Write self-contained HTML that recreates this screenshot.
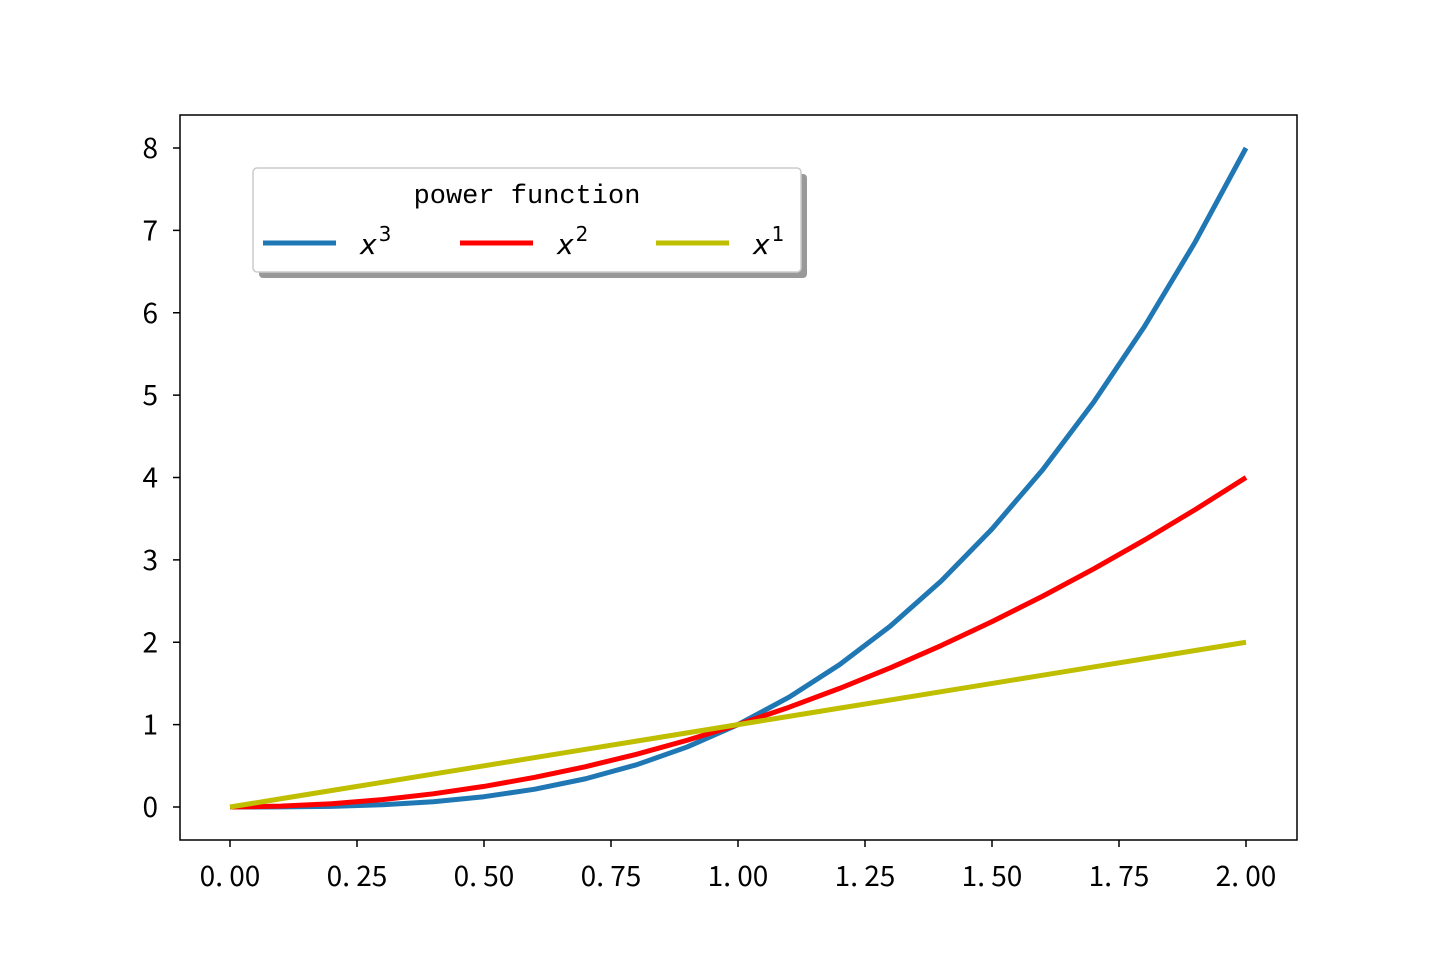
<!DOCTYPE html>
<html><head><meta charset="utf-8"><style>
html,body{margin:0;padding:0;background:#fff;width:1440px;height:960px;overflow:hidden}
svg{display:block}
text{font-family:"WenQuanYi Zen Hei","Noto Sans CJK SC",sans-serif;fill:#000}
</style></head><body>
<svg id="chart" width="1440" height="960" viewBox="0 0 1440 960" xmlns="http://www.w3.org/2000/svg">
<rect x="0" y="0" width="1440" height="960" fill="#fff"/>
<g id="plot"></g>
</svg>
<script>
const xs = [0,0.1,0.2,0.3,0.4,0.5,0.6,0.7,0.8,0.9,1.0,1.1,1.2,1.3,1.4,1.5,1.6,1.7,1.8,1.9,2.0];
const cubeVals = [0,0.001,0.008,0.027,0.064,0.125,0.216,0.343,0.512,0.729,1,1.331,1.728,2.197,2.744,3.375,4.096,4.913,5.832,6.859,8];
const squareVals = [0,0.01,0.04,0.09,0.16,0.25,0.36,0.49,0.64,0.81,1,1.21,1.44,1.69,1.96,2.25,2.56,2.89,3.24,3.61,4];
const linearVals = [0,0.1,0.2,0.3,0.4,0.5,0.6,0.7,0.8,0.9,1,1.1,1.2,1.3,1.4,1.5,1.6,1.7,1.8,1.9,2];
const xTicks = [0,0.25,0.5,0.75,1,1.25,1.5,1.75,2];
const xTickLabels = ["0. 00","0. 25","0. 50","0. 75","1. 00","1. 25","1. 50","1. 75","2. 00"];
const yTicks = [0,1,2,3,4,5,6,7,8];

const NS="http://www.w3.org/2000/svg";
const L=180,R=1297,T=115,B=840;
const sx=v=>230+v*508;
const sy=v=>807-v*(807-148)/8;
const g=document.getElementById('plot');
function mk(tag,attrs,parent){const e=document.createElementNS(NS,tag);for(const k in attrs)e.setAttribute(k,attrs[k]);(parent||g).appendChild(e);return e;}

xTicks.forEach((v,i)=>{
  const t=mk('line',{x1:sx(v),x2:sx(v),y1:B,y2:B+7,stroke:'#000','stroke-width':1.5});
  
  
  const l=mk('text',{x:sx(v),y:B+46,'text-anchor':'middle','font-size':28});
  l.textContent=xTickLabels[i];
  
  
});
yTicks.forEach(v=>{
  const t=mk('line',{x1:L-7,x2:L,y1:sy(v),y2:sy(v),stroke:'#000','stroke-width':1.5});
  
  
  const l=mk('text',{x:L-22,y:sy(v)+10,'text-anchor':'end','font-size':28});
  l.textContent=String(v);
  
  
});

const series=[[cubeVals,'#1f77b4','series-x3'],[squareVals,'#ff0000','series-x2'],[linearVals,'#bfbf00','series-x1']];
series.forEach(([vals,c,n])=>{
  const p=mk('polyline',{points:xs.map((x,i)=>sx(x)+','+sy(vals[i])).join(' '),fill:'none',stroke:c,'stroke-width':5,'stroke-linejoin':'round'});
  
  
});

const frame=mk('rect',{x:L,y:T,width:R-L,height:B-T,fill:'none',stroke:'#000','stroke-width':1.5});



const lg=mk('g',{});


mk('rect',{x:259,y:174,width:548,height:104,rx:4,fill:'#999'},lg);
mk('rect',{x:253,y:168,width:548,height:104,rx:4,fill:'#fff',stroke:'#ccc','stroke-width':1.5},lg);
const title=mk('text',{x:527,y:203,'text-anchor':'middle',style:'font-family:"Liberation Mono",monospace;font-size:27px'},lg);
title.textContent='power function';


const ent=[['#1f77b4',263,'3'],['#ff0000',460,'2'],['#bfbf00',656,'1']];
ent.forEach(([c,x,p])=>{
  const e=mk('g',{},lg);
  
  
  mk('line',{x1:x,x2:x+73,y1:243,y2:243,stroke:c,'stroke-width':5},e);
  const t=mk('text',{x:x+97,y:254,style:'font-family:"DejaVu Sans",sans-serif;font-size:28px;font-style:italic'},e);
  t.textContent='x';
  const s=mk('tspan',{dx:2,dy:-13,style:'font-size:20px;font-style:normal'},t);
  s.textContent=p;
});
</script>
</body></html>
